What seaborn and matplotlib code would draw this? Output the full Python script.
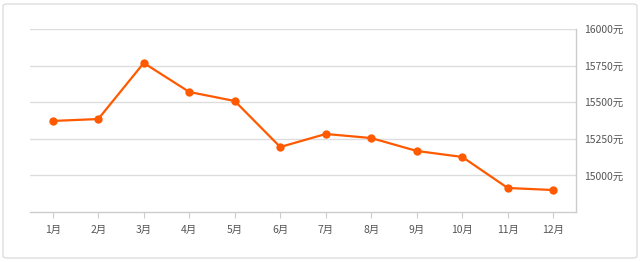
import matplotlib
matplotlib.use("Agg")
import matplotlib.pyplot as plt
from matplotlib.patches import FancyBboxPatch
import seaborn as sns
import pandas as pd

months = ["1月", "2月", "3月", "4月", "5月", "6月", "7月", "8月", "9月", "10月", "11月", "12月"]
prices = [15372, 15385, 15768, 15570, 15508, 15194, 15283, 15255, 15167, 15126, 14914, 14900]
yticks = [15000, 15250, 15500, 15750, 16000]
ytick_labels = [f"{v}元" for v in yticks]

sns.set_style("white")
plt.rcParams['font.family'] = ['Noto Sans CJK SC', 'DejaVu Sans']

df = pd.DataFrame({"month": months, "price": prices})

fig = plt.figure(figsize=(6.4, 2.62), dpi=100)
ax = fig.add_axes([30/640, 1-212/262, (576-30)/640, (212-29)/262])

border = FancyBboxPatch((3/640, 4/262), 634/640, 254/262,
                        boxstyle="round,pad=0,rounding_size=0.008",
                        transform=fig.transFigure, facecolor="none",
                        edgecolor="#dddddd", linewidth=1.0)
fig.patches.append(border)

sns.lineplot(data=df, x="month", y="price", ax=ax, color="#ff5a00",
             linewidth=1.6, marker="o", markersize=6, markeredgewidth=0,
             sort=False)

ax.set_xlim(-0.5, 11.5)
ax.set_ylim(14750, 16000)
ax.set_yticks(yticks)
ax.set_yticklabels(ytick_labels)
ax.yaxis.tick_right()
ax.grid(axis="y", color="#dddddd", linewidth=1.0)
ax.set_axisbelow(True)

for s in ["top", "left"]:
    ax.spines[s].set_visible(False)
for s in ["bottom", "right"]:
    ax.spines[s].set_color("#cccccc")
    ax.spines[s].set_linewidth(1.0)

ax.tick_params(axis="x", colors="#cccccc", labelcolor="#555555", length=4,
               width=0.8, labelsize=7.5, pad=5, bottom=True)
ax.tick_params(axis="y", colors="#555555", length=0, labelsize=7.5, pad=6)
ax.set_xlabel("")
ax.set_ylabel("")

fig.savefig("out.png", dpi=100, facecolor="white")
